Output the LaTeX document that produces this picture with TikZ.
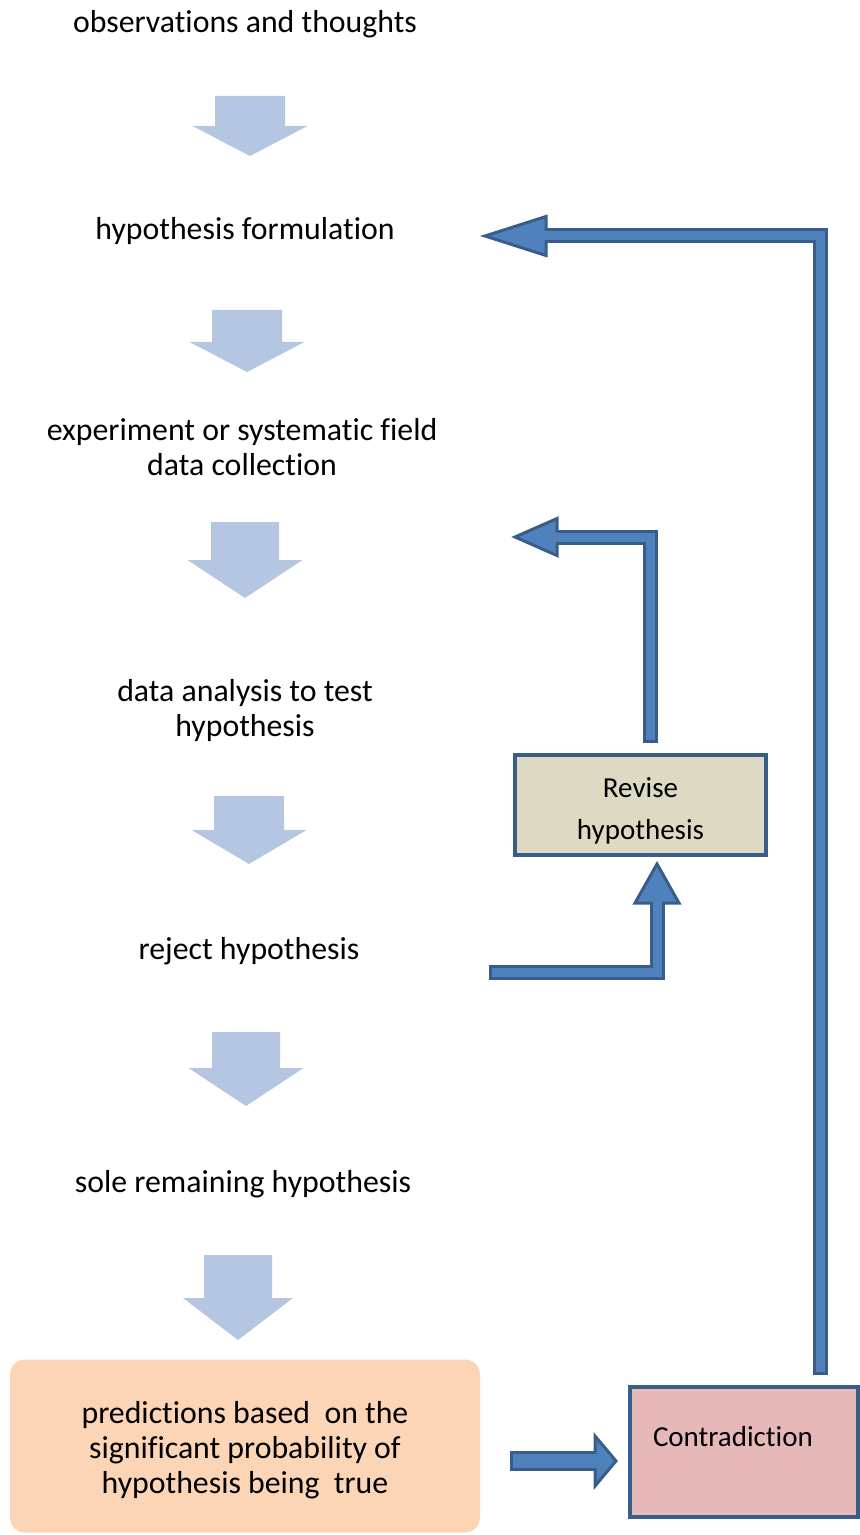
\documentclass[tikz,border=0pt]{standalone}
\usepackage{fontspec}
\setmainfont[Ligatures=NoCommon]{Carlito}
\usetikzlibrary{calc}

\definecolor{flowblue}{HTML}{B4C6E1}
\definecolor{arrowfill}{HTML}{4F81BD}
\definecolor{arrowline}{HTML}{385D8A}
\definecolor{predfill}{HTML}{FBD5B5}
\definecolor{revfill}{HTML}{DDD9C3}
\definecolor{contrafill}{HTML}{E6B9B8}

\begin{document}
\begin{tikzpicture}[x=0.5pt, y=-0.5pt,
  stage/.style={font=\fontsize{15.9}{17.5}\selectfont, align=center, inner sep=0pt},
  box/.style={rectangle, draw=arrowline, line width=2pt, font=\fontsize{14.5}{21}\selectfont, align=center},
  shaftout/.style={draw=arrowline, line width=7.5pt, line join=miter},
  shaftin/.style={draw=arrowfill, line width=4.5pt, line join=miter, shorten <=1.5pt, shorten >=-1.5pt},
  head/.style={fill=arrowfill, draw=arrowline, line width=1.5pt, line join=miter}]
\useasboundingbox (0,0) rectangle (860,1535);

% steps down the left side
\node[stage] (obs) at (245,24) {observations and thoughts};
\node[stage] (hyp) at (245,231) {hypothesis formulation};
\node[stage] (exp) at (242,447) {experiment or systematic field\\data collection};
\node[stage] (ana) at (245,711) {data analysis to test\\hypothesis};
\node[stage] (rej) at (249,951) {reject hypothesis};
\node[stage] (sole) at (243,1184) {sole remaining hypothesis};
\node[stage, rectangle, fill=predfill, rounded corners=7.5pt, minimum width=235pt, minimum height=86.5pt]
  (pred) at (245,1446) {\rule{0pt}{15.4pt}predictions based\ \ on the\\significant probability of\\hypothesis being\ \ true};

% boxes on the right
\node[box, fill=revfill, minimum width=125.5pt, minimum height=50pt] (revise) at (640.5,805) {\rule{0pt}{15.9pt}Revise\\hypothesis};
\node[box, fill=contrafill, minimum width=114pt, minimum height=65pt, text height=10pt, text depth=15.6pt,
  inner xsep=11.5pt, text width=91pt, align=left] (contra) at (744,1452) {Contradiction};

% light arrows between the steps
\foreach \xc/\ytop/\ybase/\ytip/\ws/\wh in {250/96/126/156/35/57.5, 247/310/342/372/35/57.5,
    245/522/560/598/34/57.5, 249/796/830/864/35/57.5, 246/1032/1068/1106/34/57.5, 238/1255/1298/1340/34/55}
  \fill[flowblue] (\xc-\ws,\ytop) -- (\xc+\ws,\ytop) -- (\xc+\ws,\ybase) -- (\xc+\wh,\ybase)
    -- (\xc,\ytip) -- (\xc-\wh,\ybase) -- (\xc-\ws,\ybase) -- cycle;

% contradiction back to the hypothesis
\coordinate (retstart) at ($(contra.north)+(76,-10)$);
\coordinate (rettip) at (485,236);
\coordinate (retbase) at ($(rettip)+(61,0)$);
\draw[shaftout] (retstart) |- (retbase);
\draw[head] (rettip) -- ++(61,-19.5) -- ++(0,39) -- cycle;
\draw[shaftin] (retstart) |- (retbase);

% revise back to the experiment
\coordinate (revstart) at ($(revise.north)+(9.5,-10)$);
\coordinate (revtip) at (515,537);
\coordinate (revbase) at ($(revtip)+(42,0)$);
\draw[shaftout] (revstart) |- (revbase);
\draw[head] (revtip) -- ++(42,-18.5) -- ++(0,37) -- cycle;
\draw[shaftin] (revstart) |- (revbase);

% reject up to revise
\coordinate (rejstart) at (489,972);
\coordinate (rejtip) at ($(revise.south)+(16.5,7)$);
\coordinate (rejbase) at ($(rejtip)+(0,39)$);
\draw[shaftout] (rejstart) -| (rejbase);
\draw[head] (rejtip) -- ++(-22,39) -- ++(44,0) -- cycle;
\draw[shaftin] (rejstart) -| (rejbase);

% predictions to contradiction
\coordinate (predstart) at ($(pred.east)+(30,15)$);
\coordinate (predtip) at ($(contra.west)+(-12,9)$);
\coordinate (predbase) at ($(predtip)+(-21,0)$);
\draw[shaftout, line width=10pt] (predstart) -- (predbase);
\draw[head] (predtip) -- ++(-21,-25) -- ++(0,50) -- cycle;
\draw[shaftin, line width=7pt] (predstart) -- (predbase);
\end{tikzpicture}
\end{document}
